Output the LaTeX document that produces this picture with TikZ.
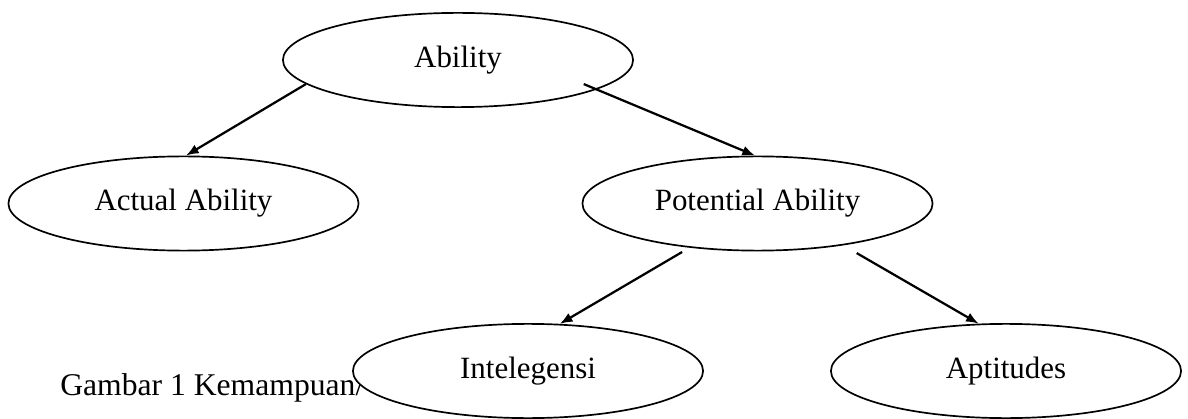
\documentclass[tikz,border=0pt]{standalone}
\usepackage{fontspec}
\setmainfont{Liberation Serif}
\usetikzlibrary{arrows.meta,shapes.geometric}

\begin{document}
\begin{tikzpicture}[x=0.025cm,y=-0.025cm,
    kind/.style={ellipse, draw, line width=1.2pt, fill=white, inner sep=0pt,
        minimum width=249pt, minimum height=67pt, font=\fontsize{22}{26}\selectfont},
    link/.style={-{Latex[length=9pt,width=7pt]}, line width=1.6pt}]

\useasboundingbox (0,0) rectangle (1188,419);

\node [anchor=base west, inner sep=0pt, font=\fontsize{22.5}{26}\selectfont] (caption) at (60,395) {Gambar 1 Kemampuan/};

\node [kind] (ability)   at (458,60)    {Ability};
\node [kind] (actual)    at (183.5,203.5) {Actual Ability};
\node [kind] (potential) at (757.5,203.5) {Potential Ability};
\node [kind] (intel)     at (528,371)   {Intelegensi};
\node [kind] (apt)       at (1006,371)  {Aptitudes};

\draw [link] (ability.189) -- (actual.87);
\draw [link, shorten <=-10pt] (ability.-12) -- (potential.93);
\draw [link, shorten <=6pt] (potential.213) -- (intel.56);
\draw [link, shorten <=11pt] (potential.-26) -- (apt.120);

\end{tikzpicture}
\end{document}
